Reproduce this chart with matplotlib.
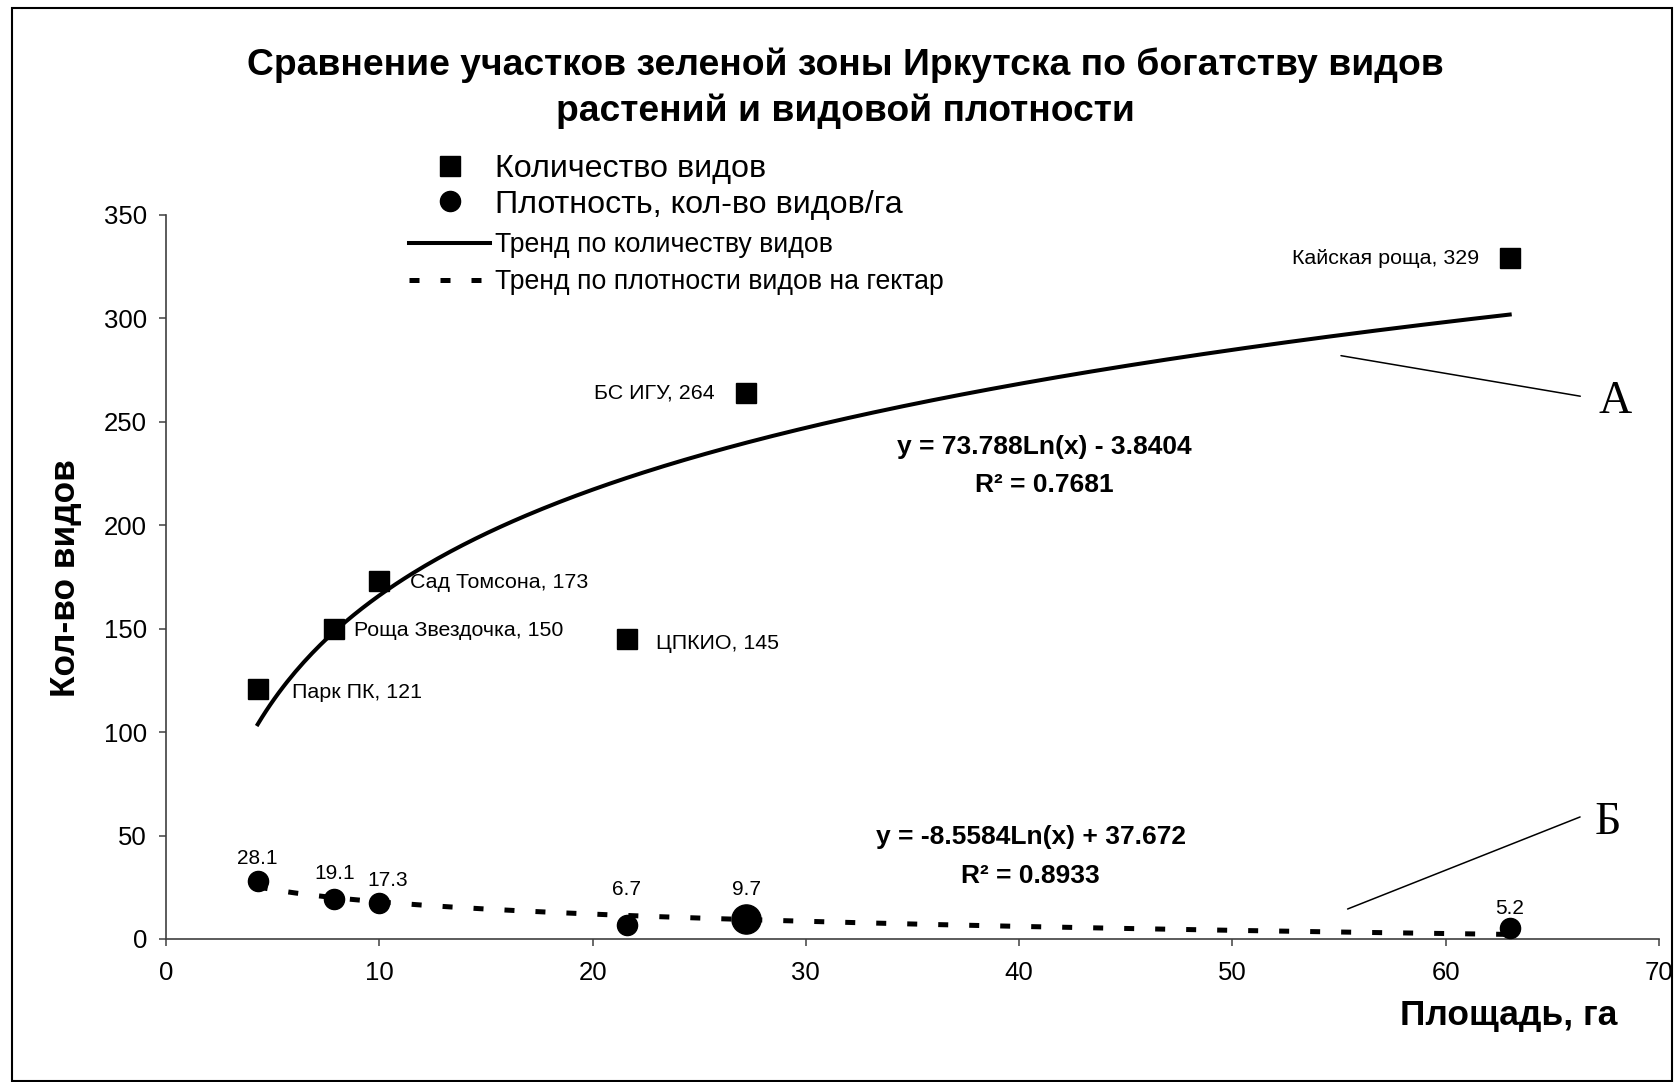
import numpy as np
import matplotlib
matplotlib.use("Agg")
import matplotlib.pyplot as plt
from matplotlib.patches import Rectangle

plt.rcParams['font.family'] = ['Liberation Sans', 'DejaVu Sans']

# ---------------- data ----------------
site_names = ["Парк ПК", "Роща Звездочка", "Сад Томсона", "ЦПКИО", "БС ИГУ", "Кайская роща"]
area_ha = [4.3, 7.9, 10.0, 21.6, 27.2, 63.0]
species_count = [121, 150, 173, 145, 264, 329]
density = [28.1, 19.1, 17.3, 6.7, 9.7, 5.2]

# trend-line coefficients shown on the chart: y = a*Ln(x) + b
trend_count = (73.788, -3.8404)
trend_count_r2 = 0.7681
trend_dens = (-8.5584, 37.672)
trend_dens_r2 = 0.8933

x_ticks = [0, 10, 20, 30, 40, 50, 60, 70]
y_ticks = [0, 50, 100, 150, 200, 250, 300, 350]

title = "Сравнение участков зеленой зоны Иркутска по богатству видов\nрастений и видовой плотности"
x_label = "Площадь, га"
y_label = "Кол-во видов"
legend_labels = ["Количество видов", "Плотность, кол-во видов/га",
                 "Тренд по количеству видов", "Тренд по плотности видов на гектар"]

# ---------------- layout / style ----------------
W, H = 1679, 1082
fig = plt.figure(figsize=(W / 100, H / 100), dpi=100)
ax = fig.add_axes([166 / W, (H - 939) / H, (1659 - 166) / W, (939 - 215) / H])

# label offsets (points) and alignment for species labels
count_lbl_off = [(25, -3, 'left'), (14, -1, 'left'), (22, -1, 'left'),
                 (21, -3, 'left'), (-23, 0, 'right'), (-22, 0, 'right')]
dens_lbl_off = [(0, 16), (0, 18.5), (6, 16), (0, 26), (0, 21.5), (0, 14.5)]
dens_marker_sizes = [14.5, 14.5, 14.5, 14.5, 21, 14.5]

# trend lines
xs = np.linspace(min(area_ha), max(area_ha), 300)
line_count, = ax.plot(xs, trend_count[0] * np.log(xs) + trend_count[1],
                      color='black', lw=2.9, zorder=3)
line_dens, = ax.plot(xs, trend_dens[0] * np.log(xs) + trend_dens[1],
                     color='black', lw=3.6, dashes=(2, 4.2),
                     dash_capstyle='butt', zorder=3)

# markers
sq, = ax.plot(area_ha, species_count, ls='none', marker='s', ms=14.4,
              color='black', zorder=4, clip_on=False)
for x, y, s in zip(area_ha, density, dens_marker_sizes):
    ax.plot([x], [y], ls='none', marker='o', ms=s, color='black', zorder=4, clip_on=False)
circ, = ax.plot([], [], ls='none', marker='o', ms=14.5, color='black')

# data labels
for name, x, y, (dx, dy, ha) in zip(site_names, area_ha, species_count, count_lbl_off):
    ax.annotate(f"{name}, {y}", (x, y), xytext=(dx, dy), textcoords='offset points',
                ha=ha, va='center', fontsize=15.4)
for x, y, (dx, dy) in zip(area_ha, density, dens_lbl_off):
    ax.annotate(f"{y}", (x, y), xytext=(dx, dy), textcoords='offset points',
                ha='center', va='center', fontsize=15)

# equations
ax.text(41.16, 237.8, f"y = {trend_count[0]}Ln(x) - {abs(trend_count[1])}",
        ha='center', va='center', fontsize=19, fontweight='bold')
ax.text(41.16, 219.4, f"R² = {trend_count_r2}",
        ha='center', va='center', fontsize=19, fontweight='bold')
ax.text(40.55, 49.3, f"y = {trend_dens[0]}Ln(x) + {trend_dens[1]}",
        ha='center', va='center', fontsize=19, fontweight='bold')
ax.text(40.55, 30.4, f"R² = {trend_dens_r2}",
        ha='center', va='center', fontsize=19, fontweight='bold')

# A / Б pointers
ax.annotate("", xy=(55.09, 282.0), xytext=(66.31, 262.4),
            arrowprops=dict(arrowstyle='-', color='black', lw=1.1, shrinkA=0, shrinkB=0))
ax.text(67.93, 259.8, "А", family='Liberation Serif', fontsize=33, ha='center', va='center')
ax.annotate("", xy=(55.4, 14.5), xytext=(66.3, 59.0),
            arrowprops=dict(arrowstyle='-', color='black', lw=1.1, shrinkA=0, shrinkB=0))
ax.text(67.6, 56.1, "Б", family='Liberation Serif', fontsize=33, ha='center', va='center')

# axes
ax.set_xlim(0, 70)
ax.set_ylim(0, 350)
ax.set_xticks(x_ticks)
ax.set_yticks(y_ticks)
ax.spines['top'].set_visible(False)
ax.spines['right'].set_visible(False)
for s in ('left', 'bottom'):
    ax.spines[s].set_color('#404040')
    ax.spines[s].set_linewidth(1.2)
ax.tick_params(axis='both', direction='out', length=5, width=1.1, colors='#404040',
               labelcolor='black', labelsize=18.5)
ax.tick_params(axis='y', pad=8.6)
ax.tick_params(axis='x', pad=11)

ax.set_xlabel(x_label, fontsize=25.5, fontweight='bold')
ax.xaxis.set_label_coords((1617 - 166) / (1659 - 166), (939 - 1015) / (939 - 215))
ax.xaxis.label.set_ha('right')
ax.xaxis.label.set_va('center')
ax.set_ylabel(y_label, fontsize=25.4, fontweight='bold')
ax.yaxis.set_label_coords((66 - 166) / (1659 - 166), (939 - 578) / (939 - 215))
ax.yaxis.label.set_va('center')
ax.yaxis.label.set_ha('center')

# title
fig.text(845 / W, 1 - 88 / H, title, ha='center', va='center', fontsize=26.8,
         fontweight='bold', linespacing=1.36)

# legends (markers, then trend lines)
leg1 = ax.legend([sq, circ], legend_labels[:2],
                 loc='upper left', bbox_to_anchor=(409 / W, 1 - 154 / H),
                 bbox_transform=fig.transFigure, frameon=False, fontsize=23.2,
                 handlelength=2.52, handletextpad=0.155, borderpad=0,
                 borderaxespad=0, labelspacing=0.175, numpoints=1)
ax.add_artist(leg1)
leg2 = ax.legend([line_count, line_dens], legend_labels[2:],
                 loc='upper left', bbox_to_anchor=(409 / W, 1 - 232 / H),
                 bbox_transform=fig.transFigure, frameon=False, fontsize=19.2,
                 handlelength=3.03, handletextpad=0.19, borderpad=0,
                 borderaxespad=0, labelspacing=0.43)

# outer chart border
fig.patches.append(Rectangle((12 / W, 1 - 1081 / H), (1672 - 12) / W, (1081 - 8) / H,
                             transform=fig.transFigure, fill=False, lw=1.5,
                             ec='black'))

fig.savefig("out.png", dpi=100)
